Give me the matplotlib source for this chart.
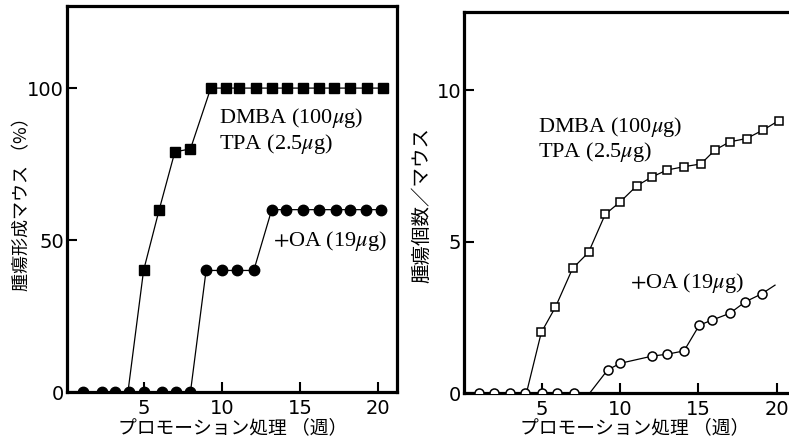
import numpy as np
import matplotlib
matplotlib.use("Agg")
import matplotlib.pyplot as plt

plt.rcParams['font.family'] = ['DejaVu Sans']
plt.rcParams['mathtext.fontset'] = 'stix'

# 左：腫瘍形成マウス (%)
sq_x_left = [4, 5, 6, 7, 8, 9.3, 10.3, 11.1, 12.2, 13.2, 14.2, 15.2, 16.2, 17.2, 18.2, 19.3, 20.3]
sq_y_left = [0, 40, 60, 79, 80, 100, 100, 100, 100, 100, 100, 100, 100, 100, 100, 100, 100]
ci_x_left = [1.1, 2.35, 3.2, 4.05, 5.05, 6.2, 7.1, 8.0, 9.0, 10.0, 11.0, 12.05,
             13.2, 14.1, 15.2, 16.2, 17.3, 18.2, 19.2, 20.2]
ci_y_left = [0, 0, 0, 0, 0, 0, 0, 0, 40, 40, 40, 40, 60, 60, 60, 60, 60, 60, 60, 60]

# 右：腫瘍個数/マウス
sq_x_right = [4, 4.95, 5.85, 6.95, 7.97, 9.04, 10.0, 11.06, 12.06, 13.0, 14.08,
              15.16, 16.06, 17.01, 18.08, 19.14, 20.14]
sq_y_right = [0, 2.0, 2.83, 4.11, 4.64, 5.9, 6.31, 6.84, 7.14, 7.36, 7.47,
              7.56, 8.02, 8.29, 8.4, 8.68, 8.99]
ci_x_right = [0.95, 1.9, 2.93, 3.9, 5.0, 5.95, 7.06, 8.05, 9.19, 10.0, 12.06,
              13.0, 14.08, 15.06, 15.89, 17.01, 18.0, 19.04, 19.9]
ci_y_right = [0, 0, 0, 0, 0, 0, 0, 0, 0.76, 0.98, 1.22, 1.28, 1.39, 2.24,
              2.41, 2.63, 3.01, 3.27, 3.56]

xticks = [5, 10, 15, 20]
lbl_dmba = r"DMBA (100$\mu$g)"
lbl_tpa = r"TPA (2.5$\mu$g)"
lbl_oa = r"$+$OA (19$\mu$g)"
xlabel = "プロモーション処理 （週）"
ylabel_left = "腫瘍形成マウス （%）"
ylabel_right = "腫瘍個数／マウス"

jp = ['Noto Sans CJK JP', 'DejaVu Sans']
serif = dict(family='Liberation Serif', fontsize=16)

fig = plt.figure(figsize=(7.89, 4.47), dpi=100)
ax1 = fig.add_axes([0.0849, 0.123, 0.418, 0.8635])
ax2 = fig.add_axes([0.588, 0.1208, 0.422, 0.852])

def style(ax, yticks):
    for s in ax.spines.values():
        s.set_linewidth(2.3)
    ax.set_xticks(xticks)
    ax.set_yticks(yticks)
    ax.tick_params(axis='both', direction='in', length=7, width=1.5,
                   labelsize=14, pad=2)
    ax.tick_params(axis='x', pad=5)

# 左パネル
ax1.plot(sq_x_left, sq_y_left, color='black', lw=0.9, marker='s', ms=7.5,
         markevery=slice(1, None), zorder=2)
ax1.plot(ci_x_left, ci_y_left, color='black', lw=0.9, marker='o', ms=7.5, zorder=3)
ax1.set_xlim(0.1, 21.2)
ax1.set_ylim(0, 127)
style(ax1, [0, 50, 100])
ax1.text(9.85, 90, lbl_dmba, va='center', **serif)
ax1.text(9.85, 81.6, lbl_tpa, va='center', **serif)
ax1.text(13.3, 49.8, lbl_oa, va='center', **serif)

# 右パネル
ax2.plot(sq_x_right, sq_y_right, color='black', lw=0.9, marker='s', ms=6,
         mfc='white', mec='black', mew=1.1, markevery=slice(1, None), zorder=2)
ci_marks = [i for i in range(len(ci_x_right)) if i not in (7, len(ci_x_right) - 1)]
ax2.plot(ci_x_right, ci_y_right, color='black', lw=0.9, marker='o', ms=6.5,
         mfc='white', mec='black', mew=1.1, markevery=ci_marks, zorder=3)
ax2.set_xlim(0, 21.3)
ax2.set_ylim(0, 12.57)
style(ax2, [0, 5, 10])
ax2.text(4.74, 8.79, lbl_dmba, va='center', **serif)
ax2.text(4.74, 7.96, lbl_tpa, va='center', **serif)
ax2.text(10.63, 3.62, lbl_oa, va='center', **serif)

fig.text(233/789, 1 - 428/447, xlabel, ha='center', va='center', fontsize=13.5, family=jp)
fig.text(635/789, 1 - 428/447, xlabel, ha='center', va='center', fontsize=13.5, family=jp)
fig.text(22/789, 1 - 200/447, ylabel_left, ha='center', va='center', rotation=90,
         fontsize=13, family=jp)
fig.text(422/789, 1 - 205/447, ylabel_right, ha='center', va='center', rotation=90,
         fontsize=14, family=jp)

fig.savefig("out.png", dpi=100)
